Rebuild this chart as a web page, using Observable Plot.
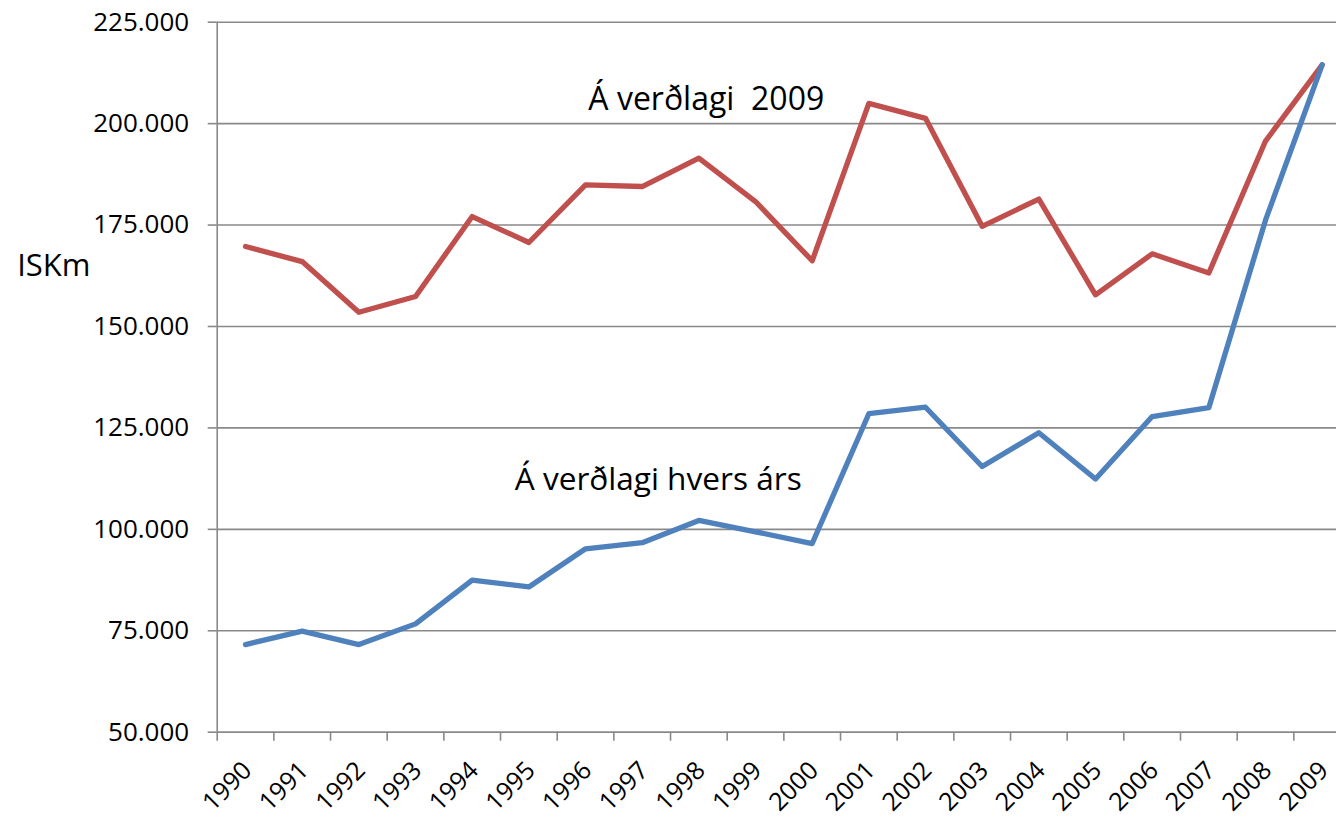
<!DOCTYPE html>
<html>
<head>
<meta charset="utf-8">
<script src="https://cdn.jsdelivr.net/npm/d3@7"></script>
<script src="https://cdn.jsdelivr.net/npm/@observablehq/plot@0.6"></script>
<style>
  html, body { margin: 0; padding: 0; background: #fff; overflow: hidden; }
  #chart { width: 1336px; height: 819px; overflow: hidden; }
  #chart svg { max-width: none !important; width: 1350px; height: 819px; font-family: "Open Sans", sans-serif; }
</style>
</head>
<body>
<div id="chart"></div>
<script>
// ---- data ----
const years = [1990, 1991, 1992, 1993, 1994, 1995, 1996, 1997, 1998, 1999,
               2000, 2001, 2002, 2003, 2004, 2005, 2006, 2007, 2008, 2009];
// Á verðlagi 2009 (constant 2009 prices), ISK millions
const real2009 = [169700, 166000, 153500, 157400, 177100, 170700, 184900, 184500, 191500, 180800,
                  166200, 205000, 201300, 174700, 181400, 157800, 167900, 163200, 195700, 214500];
// Á verðlagi hvers árs (current prices), ISK millions
const nominal = [71600, 74900, 71600, 76700, 87500, 85800, 95200, 96700, 102200, 99400,
                 96500, 128500, 130100, 115500, 123800, 112400, 127800, 130000, 176200, 214500];
const yTicks = [50000, 75000, 100000, 125000, 150000, 175000, 200000, 225000];
const seriesNames = ["Á verðlagi  2009", "Á verðlagi hvers árs"];
const yAxisLabel = "ISKm";

// ---- build ----
const isLocale = d3.formatLocale({decimal: ",", thousands: ".", grouping: [3], currency: ["", " kr"]});
const fmt = isLocale.format(",");
const red = "#C0504D", blue = "#4F81BD", grid = "#898989";

const rows = years.map((yr, i) => ({year: yr, real: real2009[i], nominal: nominal[i]}));
const bandEdges = years.map(y => y - 0.5);

const chart = Plot.plot({
  width: 1350,
  height: 819,
  marginLeft: 216.7,
  marginRight: 0,
  marginTop: 21.7,
  marginBottom: 87.3,
  style: {fontFamily: "'Open Sans', sans-serif", background: "#fff", color: "#000", maxWidth: "none", overflow: "visible"},
  x: {type: "linear", domain: [years[0] - 0.5, years[years.length - 1] + 0.5], axis: null, label: null},
  y: {domain: [yTicks[0], yTicks[yTicks.length - 1]], axis: null, label: null},
  marks: [
    Plot.gridY(yTicks, {stroke: grid, strokeOpacity: 1, strokeWidth: 1.6}),
    Plot.ruleX([bandEdges[0]], {stroke: grid, strokeWidth: 1.6}),
    Plot.ruleY([yTicks[0]], {stroke: grid, strokeWidth: 1.6}),
    Plot.axisY(yTicks, {tickSize: 9, tickPadding: 19, tickFormat: fmt, fontSize: 26, label: null,
                        stroke: grid, strokeWidth: 1.6, fill: "#000"}),
    Plot.axisX(bandEdges, {tickSize: 9, tickFormat: () => "", label: null, stroke: grid, strokeWidth: 1.6}),
    Plot.text(years, {x: d => d, y: () => yTicks[0], text: d => String(d), rotate: -45,
                      textAnchor: "end", lineAnchor: "middle", dx: 2, dy: 34, fontSize: 25, fill: "#000"}),
    Plot.line(rows, {x: "year", y: "real", stroke: red, strokeWidth: 5.3,
                     strokeLinejoin: "round", strokeLinecap: "round"}),
    Plot.line(rows, {x: "year", y: "nominal", stroke: blue, strokeWidth: 5.3,
                     strokeLinejoin: "round", strokeLinecap: "round"}),
    Plot.text([seriesNames[0]], {x: 1996.05, y: 206000, text: d => d, textAnchor: "start",
                                 lineAnchor: "middle", fontSize: 32, fill: "#000"}),
    Plot.text([seriesNames[1]], {x: 1994.75, y: 112300, text: d => d, textAnchor: "start",
                                 lineAnchor: "middle", fontSize: 31.6, fill: "#000"}),
    Plot.text([yAxisLabel], {frameAnchor: "left", dx: -200, y: 164800, text: d => d,
                             textAnchor: "start", lineAnchor: "middle", fontSize: 31, fill: "#000"})
  ]
});
document.getElementById("chart").appendChild(chart);
</script>
</body>
</html>
